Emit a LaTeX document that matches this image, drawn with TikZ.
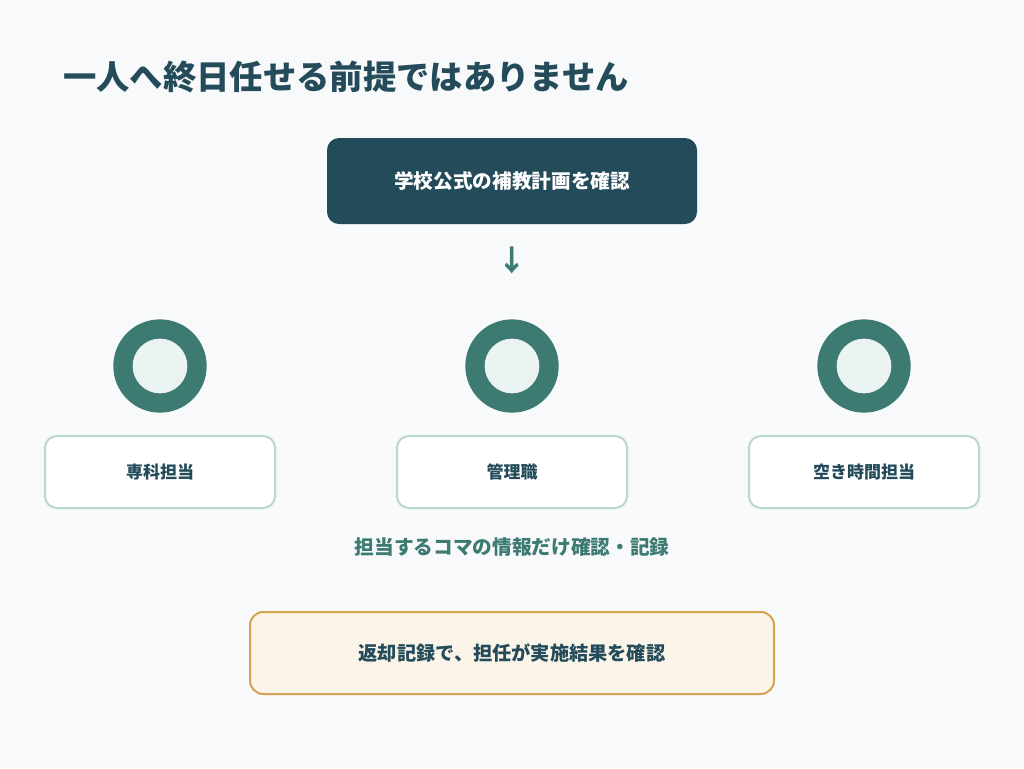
\documentclass[tikz,border=0pt]{standalone}
\usepackage{fontspec}
\setmainfont{Noto Sans CJK JP}
\definecolor{bg}{HTML}{F7F9FB}
\definecolor{navy}{HTML}{244B5A}
\definecolor{teal}{HTML}{3D7A72}
\definecolor{pale}{HTML}{EAF3F1}
\definecolor{boxline}{HTML}{BCD6D2}
\definecolor{cream}{HTML}{FBF5E9}
\definecolor{gold}{HTML}{D4A350}
\tikzset{
  rolebox/.style={draw=boxline, line width=1.5pt, fill=white, rounded corners=9pt,
    minimum width=172.5pt, minimum height=54pt, text=navy, font=\bfseries\fontsize{12.75pt}{15pt}\selectfont},
  ring/.style={circle, fill=teal, minimum size=70pt, inner sep=0pt},
  core/.style={circle, fill=pale, minimum size=41pt, inner sep=0pt}
}
\begin{document}
\begin{tikzpicture}[x=0.75pt,y=-0.75pt]
\fill[bg] (0,0) rectangle (1024,768);
\useasboundingbox (0,0) rectangle (1024,768);
\node[anchor=west, text=navy, font=\bfseries\fontsize{25pt}{30pt}\selectfont, inner sep=0pt] (title) at (63,77) {一人へ終日任せる前提ではありません};
\node[fill=navy, rounded corners=9pt, minimum width=277.5pt, minimum height=64.5pt, text=white, font=\bfseries\fontsize{14.75pt}{18pt}\selectfont] (plan) at (512,181) {学校公式の補教計画を確認};
\node[text=teal, font=\bfseries\fontsize{22pt}{24pt}\selectfont, inner sep=0pt] (arrow) at (512,260) {↓};
\foreach \n/\x in {a/160,b/512,c/864}{
  \node[ring] (r\n) at (\x,366) {};
  \node[core] (c\n) at (\x,366) {};
}
\node[rolebox] (b1) at (160,472) {専科担当};
\node[rolebox] (b2) at (512,472) {管理職};
\node[rolebox] (b3) at (864,472) {空き時間担当};
\node[text=teal, font=\bfseries\fontsize{14.75pt}{18pt}\selectfont] (note) at (512,547) {担当するコマの情報だけ確認・記録};
\node[draw=gold, line width=1.5pt, fill=cream, rounded corners=10pt, minimum width=393pt, minimum height=61.5pt, text=navy, font=\bfseries\fontsize{14.4pt}{18pt}\selectfont] (ret) at (512,653) {返却記録で、担任が実施結果を確認};
\end{tikzpicture}
\end{document}
